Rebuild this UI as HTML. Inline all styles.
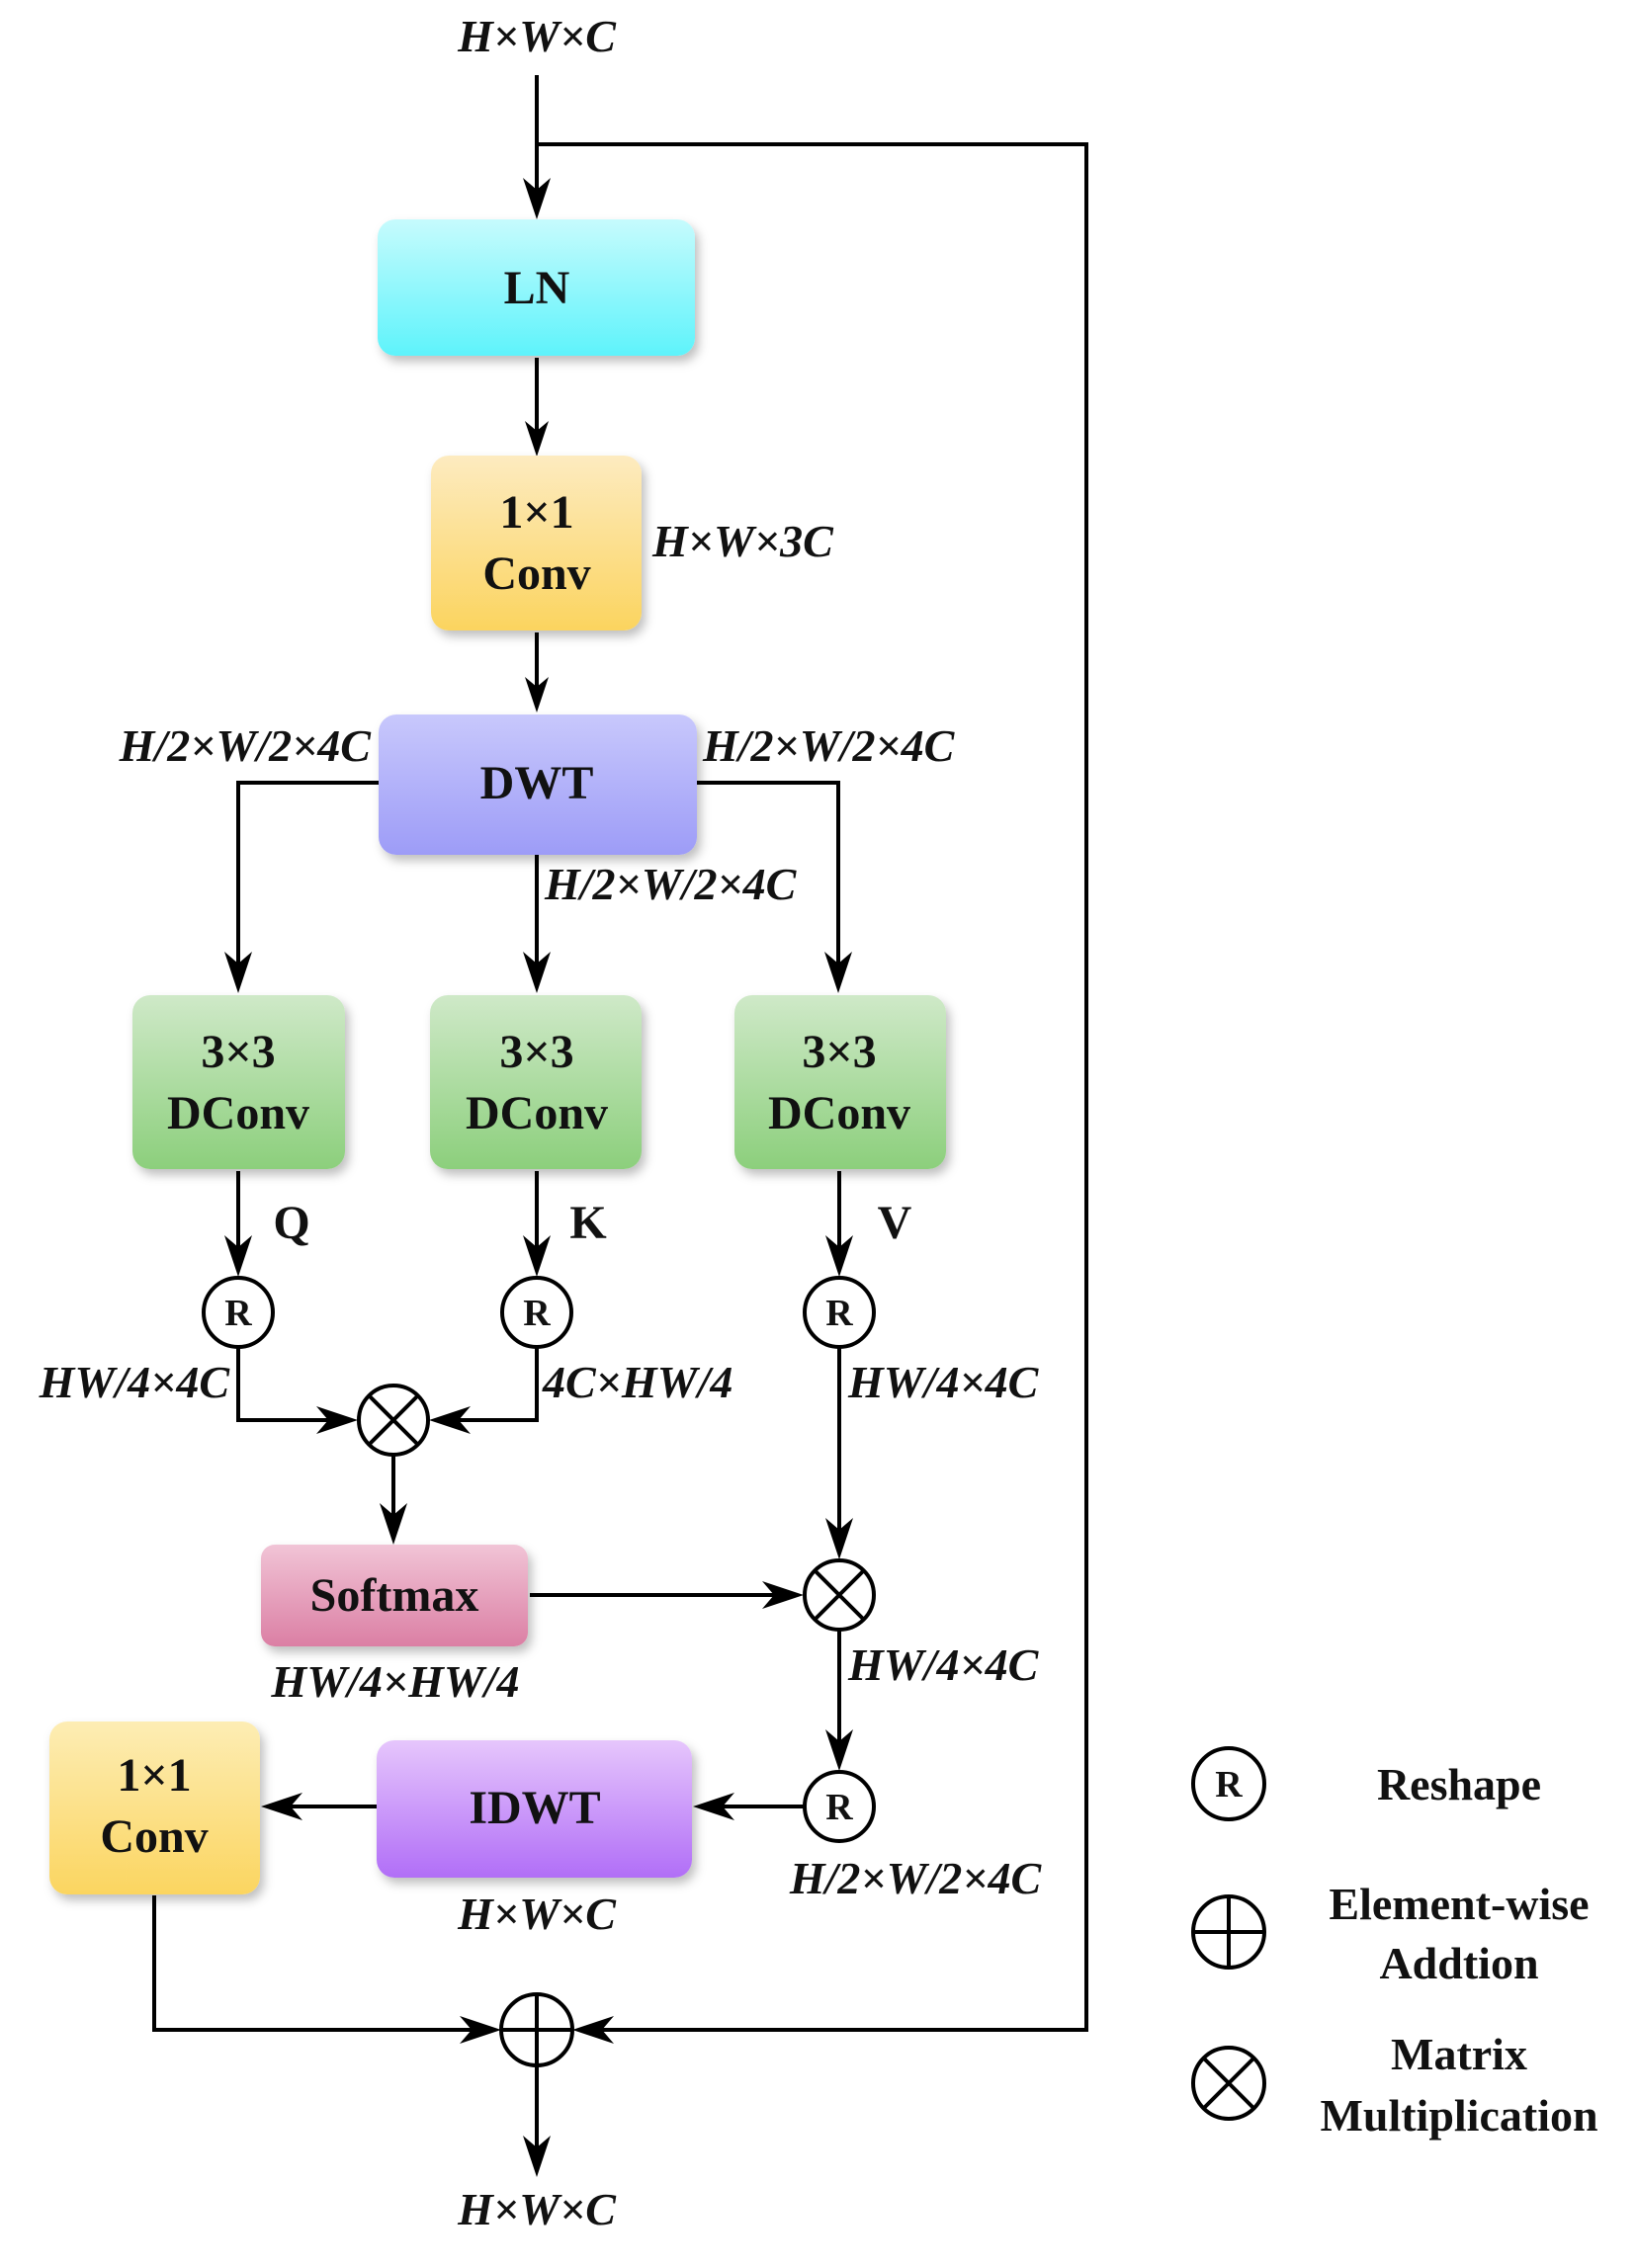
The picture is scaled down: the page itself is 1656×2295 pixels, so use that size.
<!DOCTYPE html>
<html><head><meta charset="utf-8"><style>
html,body{margin:0;padding:0;background:#fff}
svg{display:block}
.b{font-family:"Liberation Serif",serif;font-weight:bold;font-size:48px;fill:#111;text-anchor:middle}
.i{font-family:"Liberation Serif",serif;font-weight:bold;font-style:italic;font-size:46px;fill:#111}
.l{stroke:#000;stroke-width:4;fill:none}
</style></head><body>
<svg width="1656" height="2295" viewBox="0 0 1656 2295" xmlns="http://www.w3.org/2000/svg">
<defs>
<linearGradient id="gc" x1="0" y1="0" x2="0" y2="1"><stop offset="0" stop-color="#c6fbfd"/><stop offset="1" stop-color="#5ef3fb"/></linearGradient>
<linearGradient id="go" x1="0" y1="0" x2="0" y2="1"><stop offset="0" stop-color="#fdebc0"/><stop offset="1" stop-color="#fbd45f"/></linearGradient>
<linearGradient id="gp" x1="0" y1="0" x2="0" y2="1"><stop offset="0" stop-color="#c8c8fc"/><stop offset="1" stop-color="#9d9cf7"/></linearGradient>
<linearGradient id="gg" x1="0" y1="0" x2="0" y2="1"><stop offset="0" stop-color="#cfe9c8"/><stop offset="1" stop-color="#8ccf7c"/></linearGradient>
<linearGradient id="gk" x1="0" y1="0" x2="0" y2="1"><stop offset="0" stop-color="#f1c4d6"/><stop offset="1" stop-color="#db7fa4"/></linearGradient>
<linearGradient id="gv" x1="0" y1="0" x2="0" y2="1"><stop offset="0" stop-color="#e6c6fc"/><stop offset="1" stop-color="#b16ef7"/></linearGradient>
<linearGradient id="gy" x1="0" y1="0" x2="0" y2="1"><stop offset="0" stop-color="#fdedb4"/><stop offset="1" stop-color="#fbd560"/></linearGradient>
<filter id="sh" x="-10%" y="-10%" width="125%" height="130%"><feDropShadow dx="4" dy="6" stdDeviation="5" flood-color="#000" flood-opacity="0.25"/></filter>
<marker id="a" markerWidth="10" markerHeight="10" refX="9" refY="5" orient="auto" markerUnits="userSpaceOnUse" viewBox="0 0 10 10"><path d="M0,0 L10,5 L0,10 L3,5 Z" fill="#000"/></marker>
</defs>
<g id="arrows">
<!-- helper: arrowheads drawn as paths -->
</g>
<!-- lines -->
<path class="l" d="M543,76 V215"/>
<path class="l" d="M543,146 H1099 V2054 H590"/>
<path class="l" d="M543,362 V455"/>
<path class="l" d="M543,640 V715"/>
<path class="l" d="M383,792 H241 V998"/>
<path class="l" d="M705,792 H848 V998"/>
<path class="l" d="M543,865 V998"/>
<path class="l" d="M241,1185 V1285"/>
<path class="l" d="M543,1185 V1285"/>
<path class="l" d="M849,1185 V1285"/>
<path class="l" d="M241,1364 V1437 H355"/>
<path class="l" d="M543,1364 V1437 H441"/>
<path class="l" d="M398,1473 V1556"/>
<path class="l" d="M536,1614 H806"/>
<path class="l" d="M849,1364 V1571"/>
<path class="l" d="M849,1650 V1785"/>
<path class="l" d="M813,1828 H708"/>
<path class="l" d="M381,1828 H270"/>
<path class="l" d="M156,1918 V2054 H500"/>
<path class="l" d="M543,2090 V2196"/>
<!-- arrowheads -->
<g fill="#000">
<path d="M543,222 l-14,-42 l14,12 l14,-12z"/>
<path d="M543,462 l-12,-36 l12,10 l12,-10z"/>
<path d="M543,721 l-12,-36 l12,10 l12,-10z"/>
<path d="M241,1005 l-14,-42 l14,12 l14,-12z"/>
<path d="M543,1005 l-14,-42 l14,12 l14,-12z"/>
<path d="M848,1005 l-14,-42 l14,12 l14,-12z"/>
<path d="M241,1292 l-14,-42 l14,12 l14,-12z"/>
<path d="M543,1292 l-14,-42 l14,12 l14,-12z"/>
<path d="M849,1292 l-14,-42 l14,12 l14,-12z"/>
<path d="M362,1437 l-42,-14 l12,14 l-12,14z"/>
<path d="M434,1437 l42,-14 l-12,14 l12,14z"/>
<path d="M398,1563 l-14,-42 l14,12 l14,-12z"/>
<path d="M813,1614 l-42,-14 l12,14 l-12,14z"/>
<path d="M849,1578 l-14,-42 l14,12 l14,-12z"/>
<path d="M849,1792 l-14,-42 l14,12 l14,-12z"/>
<path d="M701,1828 l42,-14 l-12,14 l12,14z"/>
<path d="M264,1828 l42,-14 l-12,14 l12,14z"/>
<path d="M507,2054 l-42,-14 l12,14 l-12,14z"/>
<path d="M579,2054 l42,-14 l-12,14 l12,14z"/>
<path d="M543,2203 l-14,-42 l14,12 l14,-12z"/>
</g>
<!-- boxes -->
<g filter="url(#sh)">
<rect x="382" y="222" width="321" height="138" rx="18" fill="url(#gc)"/>
<rect x="436" y="461" width="213" height="177" rx="18" fill="url(#go)"/>
<rect x="383" y="723" width="322" height="142" rx="18" fill="url(#gp)"/>
<rect x="134" y="1007" width="215" height="176" rx="18" fill="url(#gg)"/>
<rect x="435" y="1007" width="214" height="176" rx="18" fill="url(#gg)"/>
<rect x="743" y="1007" width="214" height="176" rx="18" fill="url(#gg)"/>
<rect x="264" y="1563" width="270" height="103" rx="14" fill="url(#gk)"/>
<rect x="381" y="1761" width="319" height="139" rx="18" fill="url(#gv)"/>
<rect x="50" y="1742" width="213" height="175" rx="18" fill="url(#gy)"/>
</g>
<text class="b" x="543" y="307">LN</text>
<text class="b" x="543" y="534">1×1</text>
<text class="b" x="543" y="596">Conv</text>
<text class="b" x="543" y="808">DWT</text>
<text class="b" x="241" y="1080">3×3</text><text class="b" x="241" y="1142">DConv</text>
<text class="b" x="543" y="1080">3×3</text><text class="b" x="543" y="1142">DConv</text>
<text class="b" x="849" y="1080">3×3</text><text class="b" x="849" y="1142">DConv</text>
<text class="b" x="399" y="1630">Softmax</text>
<text class="b" x="541" y="1845">IDWT</text>
<text class="b" x="156" y="1812">1×1</text>
<text class="b" x="156" y="1874">Conv</text>
<text class="b" x="295" y="1253">Q</text>
<text class="b" x="595" y="1253">K</text>
<text class="b" x="905" y="1253">V</text>
<!-- circles -->
<g class="l" fill="#fff">
<circle cx="241" cy="1328" r="35" fill="#fff"/>
<circle cx="543" cy="1328" r="35" fill="#fff"/>
<circle cx="849" cy="1328" r="35" fill="#fff"/>
<circle cx="849" cy="1828" r="35" fill="#fff"/>
<circle cx="398" cy="1437" r="35" fill="#fff"/>
<path d="M373,1412 L423,1462 M423,1412 L373,1462"/>
<circle cx="849" cy="1614" r="35" fill="#fff"/>
<path d="M824,1589 L874,1639 M874,1589 L824,1639"/>
<circle cx="543" cy="2054" r="36" fill="#fff"/>
<path d="M543,2018 V2090 M507,2054 H579"/>
<circle cx="1243" cy="1805" r="36" fill="#fff"/>
<circle cx="1243" cy="1955" r="36" fill="#fff"/>
<path d="M1243,1919 V1991 M1207,1955 H1279"/>
<circle cx="1243" cy="2108" r="36" fill="#fff"/>
<path d="M1218,2083 L1268,2133 M1268,2083 L1218,2133"/>
</g>
<g class="b" style="font-size:38px">
<text x="241" y="1341">R</text><text x="543" y="1341">R</text><text x="849" y="1341">R</text><text x="849" y="1841">R</text><text x="1243" y="1818">R</text>
</g>
<!-- italic labels -->
<g class="i">
<text x="543" y="52" text-anchor="middle">H×W×C</text>
<text x="660" y="563">H×W×3C</text>
<text x="375" y="770" text-anchor="end">H/2×W/2×4C</text>
<text x="711" y="770">H/2×W/2×4C</text>
<text x="551" y="910">H/2×W/2×4C</text>
<text x="232" y="1414" text-anchor="end">HW/4×4C</text>
<text x="549" y="1414">4C×HW/4</text>
<text x="858" y="1414">HW/4×4C</text>
<text x="400" y="1717" text-anchor="middle">HW/4×HW/4</text>
<text x="858" y="1700">HW/4×4C</text>
<text x="926" y="1916" text-anchor="middle">H/2×W/2×4C</text>
<text x="543" y="1952" text-anchor="middle">H×W×C</text>
<text x="543" y="2251" text-anchor="middle">H×W×C</text>
</g>
<g class="b" style="font-size:46px">
<text x="1476" y="1821">Reshape</text>
<text x="1476" y="1942">Element-wise</text>
<text x="1476" y="2002">Addtion</text>
<text x="1476" y="2094">Matrix</text>
<text x="1476" y="2156">Multiplication</text>
</g>
</svg>
</body></html>
